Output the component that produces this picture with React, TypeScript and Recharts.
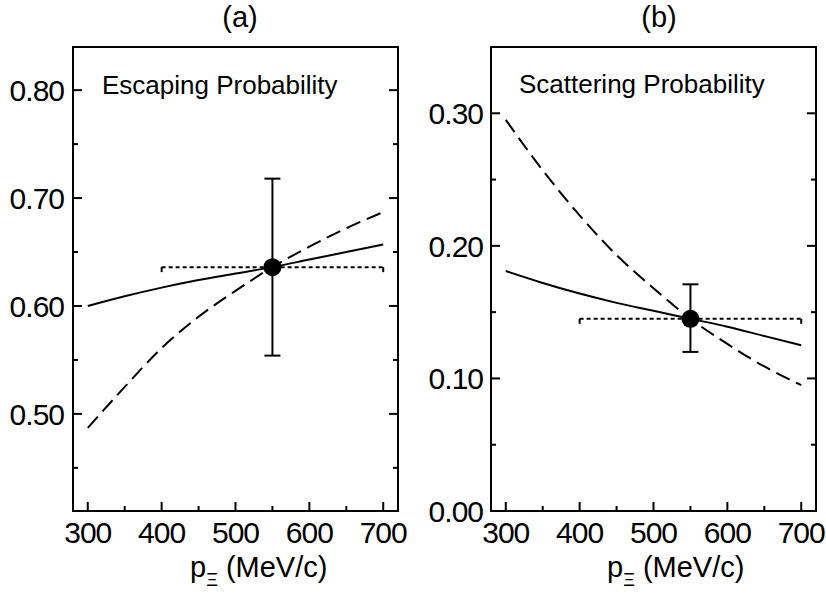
import { ComposedChart, Line, Scatter, ErrorBar, XAxis, YAxis } from 'recharts';

// momentum grid (MeV/c) for the calculated curves
const momenta = [300, 350, 400, 450, 500, 550, 600, 650, 700];
// (a) escaping probability
const escapeSolid = [0.6, 0.609, 0.617, 0.624, 0.63, 0.636, 0.643, 0.65, 0.657];
const escapeDashed = [0.487, 0.525, 0.561, 0.59, 0.614, 0.636, 0.655, 0.672, 0.687];
// (b) scattering probability
const scatterSolid = [0.181, 0.172, 0.164, 0.157, 0.151, 0.145, 0.139, 0.132, 0.125];
const scatterDashed = [0.295, 0.257, 0.223, 0.193, 0.168, 0.145, 0.126, 0.109, 0.095];

// measured points: value, lower end, upper end
const measuredP = 550;
const escapeMeasured = [0.636, 0.554, 0.718];
const scatterMeasured = [0.145, 0.12, 0.171];
const bandRange = [400, 700];

const xTicks = [300, 350, 400, 450, 500, 550, 600, 650, 700];
const escapeTicks = [0.45, 0.5, 0.55, 0.6, 0.65, 0.7, 0.75, 0.8];
const scatterTicks = [0, 0.05, 0.1, 0.15, 0.2, 0.25, 0.3];

const FONT = '"Liberation Sans", Arial, Helvetica, sans-serif';
const W = 413;
const H = 594;

const toRows = (ys: number[]) => momenta.map((x, i) => ({ x, y: ys[i] }));
const isMajorX = (v: number) => v % 100 === 0;
const isMajorY = (v: number) => Math.round(v * 100) % 10 === 0;

const bottomTick = (p: any) => {
  const v = p.payload.value;
  const major = isMajorX(v);
  return (
    <g>
      <line x1={p.x} x2={p.x} y1={p.y} y2={p.y - (major ? 9 : 5)} stroke="#000" strokeWidth={2} />
      {major && (
        <text x={p.x} y={p.y + 32} textAnchor="middle" fontSize={30} letterSpacing={-1} fontFamily={FONT} fill="#000">
          {v}
        </text>
      )}
    </g>
  );
};

const topTick = (p: any) => {
  const major = isMajorX(p.payload.value);
  return <line x1={p.x} x2={p.x} y1={p.y} y2={p.y + (major ? 9 : 5)} stroke="#000" strokeWidth={2} />;
};

const leftTick = (gap: number) => (p: any) => {
  const v = p.payload.value;
  const major = isMajorY(v);
  return (
    <g>
      <line x1={p.x} x2={p.x + (major ? 9 : 5)} y1={p.y} y2={p.y} stroke="#000" strokeWidth={2} />
      {major && (
        <text x={p.x - gap} y={p.y + 11} textAnchor="end" fontSize={30} letterSpacing={-1} fontFamily={FONT} fill="#000">
          {v.toFixed(2)}
        </text>
      )}
    </g>
  );
};

const rightTick = (p: any) => {
  const major = isMajorY(p.payload.value);
  return <line x1={p.x} x2={p.x - (major ? 9 : 5)} y1={p.y} y2={p.y} stroke="#000" strokeWidth={2} />;
};

const capDot = (p: any) => (
  <line key={p.index} x1={p.cx} x2={p.cx} y1={p.cy} y2={p.cy + 5} stroke="#000" strokeWidth={2} />
);

const axisLine = { stroke: '#000', strokeWidth: 2, strokeLinecap: 'square' as const };

function Panel({
  solid,
  dashed,
  measured,
  domain,
  ticks,
  margin,
  gap,
}: {
  solid: number[];
  dashed: number[];
  measured: number[];
  domain: [number, number];
  ticks: number[];
  margin: { top: number; left: number; right: number; bottom: number };
  gap: number;
}) {
  const [val, lo, hi] = measured;
  const point = [{ x: measuredP, y: val, err: [val - lo, hi - val] }];
  const band = bandRange.map((x) => ({ x, y: val }));
  const m = { top: margin.top - 1, left: margin.left - 1, right: margin.right - 1, bottom: margin.bottom - 1 };
  return (
    <ComposedChart width={W} height={H} margin={m}>
      <XAxis
        dataKey="x"
        type="number"
        domain={[280, 720]}
        ticks={xTicks}
        interval={0}
        allowDataOverflow
        height={1}
        tickSize={0}
        tickMargin={0}
        tickLine={false}
        axisLine={axisLine}
        tick={bottomTick}
      />
      <XAxis
        xAxisId="top"
        orientation="top"
        type="number"
        domain={[280, 720]}
        ticks={xTicks}
        interval={0}
        allowDataOverflow
        height={1}
        tickSize={0}
        tickMargin={0}
        tickLine={false}
        axisLine={axisLine}
        tick={topTick}
      />
      <YAxis
        dataKey="y"
        type="number"
        domain={domain}
        ticks={ticks}
        interval={0}
        allowDataOverflow
        width={1}
        tickSize={0}
        tickMargin={0}
        tickLine={false}
        axisLine={axisLine}
        tick={leftTick(gap)}
      />
      <YAxis
        yAxisId="right"
        orientation="right"
        type="number"
        domain={domain}
        ticks={ticks}
        interval={0}
        allowDataOverflow
        width={1}
        tickSize={0}
        tickMargin={0}
        tickLine={false}
        axisLine={axisLine}
        tick={rightTick}
      />
      <Line
        data={toRows(solid)}
        dataKey="y"
        type="monotone"
        stroke="#000"
        strokeWidth={2}
        dot={false}
        activeDot={false}
        isAnimationActive={false}
      />
      <Line
        data={toRows(dashed)}
        dataKey="y"
        type="monotone"
        stroke="#000"
        strokeWidth={2}
        strokeDasharray="15 7"
        dot={false}
        activeDot={false}
        isAnimationActive={false}
      />
      <Line
        data={band}
        dataKey="y"
        stroke="#000"
        strokeWidth={2}
        strokeDasharray="4 3"
        dot={capDot}
        activeDot={false}
        isAnimationActive={false}
      />
      <Scatter
        data={point}
        dataKey="y"
        isAnimationActive={false}
        shape={(p: any) => <circle cx={p.cx} cy={p.cy} r={9} fill="#000" />}
      >
        <ErrorBar dataKey="err" direction="y" width={8} stroke="#000" strokeWidth={2} isAnimationActive={false} />
      </Scatter>
    </ComposedChart>
  );
}

export default function App() {
  const txt = { fontFamily: FONT, fill: '#000' };
  return (
    <div style={{ position: 'absolute', left: 0, top: 0, width: 826, height: 594, background: '#fff' }}>
      <div style={{ position: 'absolute', left: 0, top: 0 }}>
        <Panel
          solid={escapeSolid}
          dashed={escapeDashed}
          measured={escapeMeasured}
          domain={[0.41, 0.84]}
          ticks={escapeTicks}
          margin={{ top: 47, left: 73, right: 15, bottom: 83 }}
          gap={9}
        />
      </div>
      <div style={{ position: 'absolute', left: W, top: 0 }}>
        <Panel
          solid={scatterSolid}
          dashed={scatterDashed}
          measured={scatterMeasured}
          domain={[0, 0.35]}
          ticks={scatterTicks}
          margin={{ top: 47, left: 78, right: 10, bottom: 83 }}
          gap={8}
        />
      </div>
      <svg width={826} height={594} style={{ position: 'absolute', left: 0, top: 0, pointerEvents: 'none' }}>
        <text x={240} y={27} textAnchor="middle" fontSize={29} {...txt}>(a)</text>
        <text x={659} y={27} textAnchor="middle" fontSize={29} {...txt}>(b)</text>
        <text x={102} y={94} fontSize={26} {...txt}>Escaping Probability</text>
        <text x={519} y={93} fontSize={26} {...txt}>Scattering Probability</text>
        <text x={190} y={577} fontSize={29} {...txt}>
          p<tspan fontSize={18} dy={9}>Ξ</tspan>
          <tspan dy={-9}> (MeV/c)</tspan>
        </text>
        <text x={607} y={577} fontSize={29} {...txt}>
          p<tspan fontSize={18} dy={9}>Ξ</tspan>
          <tspan dy={-9}> (MeV/c)</tspan>
        </text>
      </svg>
    </div>
  );
}
